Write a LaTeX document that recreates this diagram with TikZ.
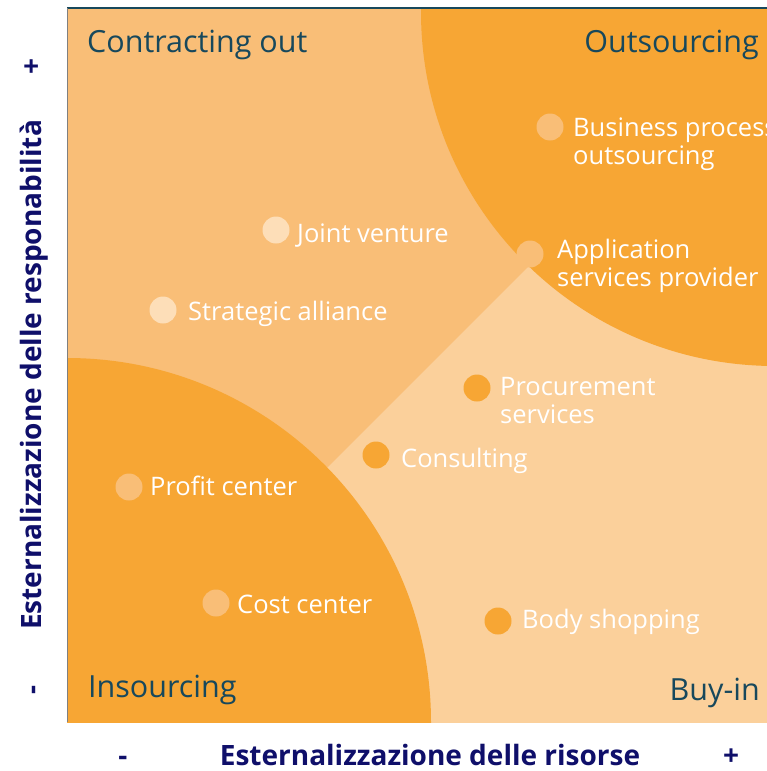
\documentclass[tikz,border=0pt]{standalone}
\usepackage{fontspec}
\setmainfont{Open Sans}
\begin{document}
\begin{tikzpicture}[x=1pt,y=-1pt]
\definecolor{bgorange}{HTML}{F9BE77}
\definecolor{midorange}{HTML}{F7A634}
\definecolor{lightorange}{HTML}{FBD09B}
\definecolor{palecream}{HTML}{FDDEB8}
\definecolor{teallabel}{HTML}{17485C}
\definecolor{navy}{HTML}{0F0F6A}
\tikzset{
  dotmark/.style={circle,inner sep=0pt,minimum size=27pt,draw=none},
  dotlabel/.style={anchor=base west,inner sep=0pt,text=white,font=\fontsize{25.5}{28}\selectfont,align=left},
  zonelabel/.style={inner sep=0pt,text=teallabel,font=\fontsize{30.5}{34}\selectfont},
  axislabel/.style={inner sep=0pt,text=navy,font=\bfseries\fontsize{28}{30}\selectfont},
}
\useasboundingbox (0,0) rectangle (767,771);
\fill[white] (0,0) rectangle (767,771);
\begin{scope}
\clip (67,8) rectangle (767,722);
\fill[bgorange] (67,8) rectangle (767,722);
\fill[lightorange] (0,795) -- (795,0) -- (1000,1000) -- cycle;
\fill[midorange] (775,12) circle[radius=354];
\fill[midorange] (67,722) circle[radius=364];
\end{scope}
\draw[teallabel,line width=1.2pt] (67,8) -- (767,8);
\draw[gray,line width=0.8pt] (67,8) -- (67,722);

% zone labels
\node[zonelabel,anchor=base west] (co) at (87,52) {Contracting out};
\node[zonelabel,anchor=base east] (os) at (759,52) {Outsourcing};
\node[zonelabel,anchor=base west] (ins) at (88,697) {Insourcing};
\node[zonelabel,anchor=base east] (bi) at (760,700) {Buy-in};

% dots and labels
\node[dotmark,fill=palecream] (djv) at (276,230) {};
\node[dotlabel] (ljv) at (297,242) {Joint venture};
\node[dotmark,fill=palecream] (dsa) at (163,310) {};
\node[dotlabel] (lsa) at (188,320) {Strategic alliance};
\node[dotmark,fill=bgorange] (dbp) at (550,127) {};
\node[dotlabel] (lbp) at (573,164) {Business process\\outsourcing};
\node[dotmark,fill=bgorange] (dap) at (530,254) {};
\node[dotlabel] (lap) at (557,286) {Application\\services provider};
\node[dotmark,fill=midorange] (dps) at (477,388) {};
\node[dotlabel] (lps) at (500,423) {Procurement\\services};
\node[dotmark,fill=midorange] (dcs) at (376,455) {};
\node[dotlabel] (lcs) at (401,467) {Consulting};
\node[dotmark,fill=bgorange] (dpc) at (129,487) {};
\node[dotlabel] (lpc) at (150,495) {Profit center};
\node[dotmark,fill=bgorange] (dcc) at (216,603) {};
\node[dotlabel] (lcc) at (237,613) {Cost center};
\node[dotmark,fill=midorange] (dbs) at (498,621) {};
\node[dotlabel] (lbs) at (522,628) {Body shopping};

% axes
\node[axislabel,anchor=base] (xl) at (430,765) {Esternalizzazione delle risorse};
\node[axislabel,anchor=base] (xm) at (123,765) {-};
\node[axislabel,anchor=base] (xp) at (731,765) {+};
\node[axislabel,anchor=base,rotate=90] (yl) at (41,375) {Esternalizzazione delle responabilità};
\node[axislabel,anchor=base,rotate=90] (yp) at (41,67) {+};
\node[axislabel,anchor=base,rotate=90] (ym) at (41,690) {-};
\end{tikzpicture}
\end{document}
